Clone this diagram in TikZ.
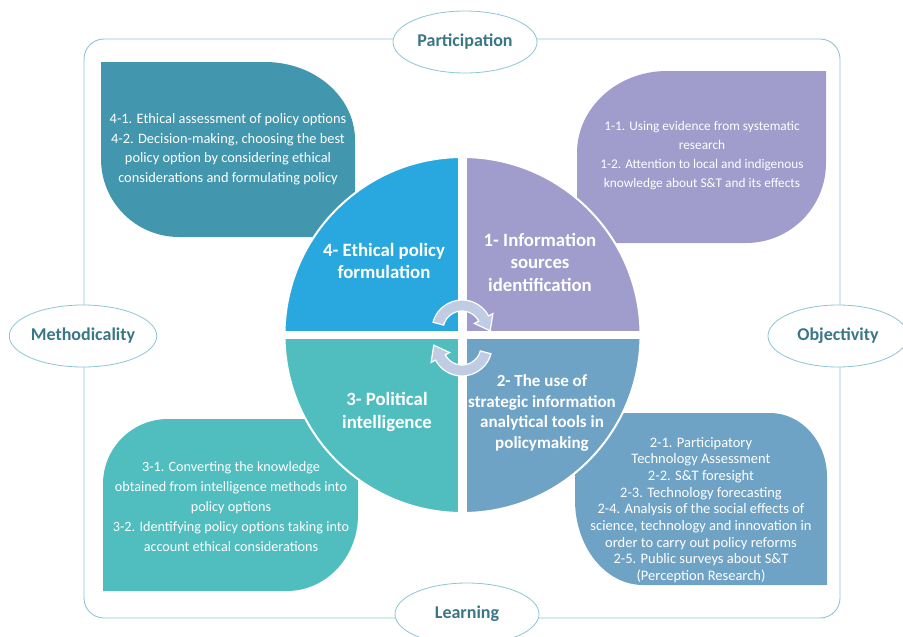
\documentclass[tikz,border=0pt]{standalone}
\usepackage{fontspec}
\setmainfont{Carlito}
\usetikzlibrary{shapes.geometric,calc}

\definecolor{frameblue}{HTML}{8EC5D3}
\definecolor{labelteal}{HTML}{3A7785}
\definecolor{petrol}{HTML}{4296AD}
\definecolor{skyblue}{HTML}{29A8E0}
\definecolor{lavender}{HTML}{A09CCB}
\definecolor{aqua}{HTML}{50BDBF}
\definecolor{steel}{HTML}{6FA3C6}
\definecolor{arrowfill}{HTML}{C0CCE4}

\tikzset{
  pillar/.style={ellipse, draw=frameblue, fill=white, line width=0.8pt,
    minimum width=144pt, minimum height=62pt, inner sep=0pt,
    text=labelteal, font=\fontsize{18}{21}\selectfont\bfseries},
  boxtext/.style={text=white, align=center, font=\fontsize{14.4}{19.5}\selectfont},
  quadtitle/.style={text=white, align=center, font=\fontsize{18.8}{22.5}\selectfont\bfseries},
  quarter/.style={draw=white, line width=2pt},
  cyclearrow/.style={fill=arrowfill, draw=white, line width=1.2pt},
}

\begin{document}
\begin{tikzpicture}[x=1pt, y=1pt]

    \useasboundingbox (0,0) rectangle (903,-637);

    % Outer frame
    \draw[frameblue, line width=0.9pt, rounded corners=20pt] (84,-39) rectangle (840,-618);

    % Corner boxes
    \fill[petrol] (101,-62) -- (265,-62) arc[start angle=90, end angle=0, x radius=90, y radius=78]
        -- (355,-237) -- (179,-237) arc[start angle=270, end angle=180, x radius=78, y radius=78] -- cycle;
    \fill[lavender] (826,-71) -- (826,-163) arc[start angle=0, end angle=-90, x radius=80, y radius=80]
        -- (577,-243) -- (577,-153) arc[start angle=180, end angle=90, x radius=90, y radius=82] -- cycle;
    \fill[aqua] (103,-591) -- (287,-591) arc[start angle=-90, end angle=0, x radius=71, y radius=76]
        -- (358,-419) -- (168,-419) arc[start angle=90, end angle=180, x radius=65, y radius=65] -- cycle;
    \fill[steel] (575,-413) -- (770,-413) arc[start angle=90, end angle=0, x radius=57, y radius=64]
        -- (827,-585) -- (643,-585) arc[start angle=270, end angle=180, x radius=68, y radius=85] -- cycle;

    % Circle of four quarters
    \coordinate (O) at (462.5,-335);
    \filldraw[quarter, fill=lavender] (O) -- ++(178,0) arc[start angle=0, end angle=90, radius=178] -- cycle;
    \filldraw[quarter, fill=skyblue] (O) -- ++(0,178) arc[start angle=90, end angle=180, radius=178] -- cycle;
    \filldraw[quarter, fill=aqua] (O) -- ++(-178,0) arc[start angle=180, end angle=270, radius=178] -- cycle;
    \filldraw[quarter, fill=steel] (O) -- ++(0,-178) arc[start angle=270, end angle=360, radius=178] -- cycle;
    \fill[white] (458,-155) rectangle (467,-515);
    \fill[white] (282,-331) rectangle (643,-339);

    % Cycle arrows
    \coordinate (C1) at (462,-330);
    \coordinate (C2) at (462,-346);
    \filldraw[cyclearrow] ($(C1)+(165:30)$) arc[start angle=165, end angle=28, radius=30]
        -- ($(C1)+(28:35)$) -- ($(C1)+(28:24.5)+(-62:14)$) -- ($(C1)+(28:14)$)
        -- ($(C1)+(28:19)$) arc[start angle=28, end angle=165, radius=19] -- cycle;
    \filldraw[cyclearrow] ($(C2)+(345:30)$) arc[start angle=345, end angle=208, radius=30]
        -- ($(C2)+(208:35)$) -- ($(C2)+(208:24.5)+(118:14)$) -- ($(C2)+(208:14)$)
        -- ($(C2)+(208:19)$) arc[start angle=208, end angle=345, radius=19] -- cycle;

    % Quarter titles
    \node at (384,-261) (ethical) [quadtitle] {4- Ethical policy\\formulation};
    \node at (540,-262) (sources) [quadtitle] {1- Information\\sources\\identification};
    \node at (542,-413) (tools) [quadtitle, font=\fontsize{17}{20.5}\selectfont\bfseries]
        {2- The use of\\strategic information\\analytical tools in\\policymaking};
    \node at (387,-412) (political) [quadtitle] {3- Political\\intelligence};

    % Box texts
    \node at (228,-149) (ethicaltext) [boxtext]
        {4-1. Ethical assessment of policy options\\4-2. Decision-making, choosing the best\\policy option by considering ethical\\considerations and formulating policy};
    \node at (702,-156) (sourcestext) [boxtext, font=\fontsize{13.3}{19}\selectfont]
        {1-1. Using evidence from systematic\\research\\1-2. Attention to local and indigenous\\knowledge about S\&T and its effects};
    \node at (231,-507) (politicaltext) [boxtext, font=\fontsize{14.2}{20}\selectfont]
        {3-1. Converting the knowledge\\obtained from intelligence methods into\\policy options\\3-2. Identifying policy options taking into\\account ethical considerations};
    \node at (701,-510) (toolstext) [boxtext, font=\fontsize{14.5}{16.7}\selectfont]
        {2-1. Participatory\\Technology Assessment\\2-2. S\&T foresight\\2-3. Technology forecasting\\2-4. Analysis of the social effects of\\science, technology and innovation in\\order to carry out policy reforms\\2-5. Public surveys about S\&T\\(Perception Research)};

    % Principles on the frame
    \node at (465,-42) (participation) [pillar] {Participation};
    \node at (83,-336) (methodicality) [pillar, minimum width=146pt] {Methodicality};
    \node at (838,-336) (objectivity) [pillar, minimum width=140pt] {Objectivity};
    \node at (467,-614) (learning) [pillar] {Learning};

\end{tikzpicture}
\end{document}
